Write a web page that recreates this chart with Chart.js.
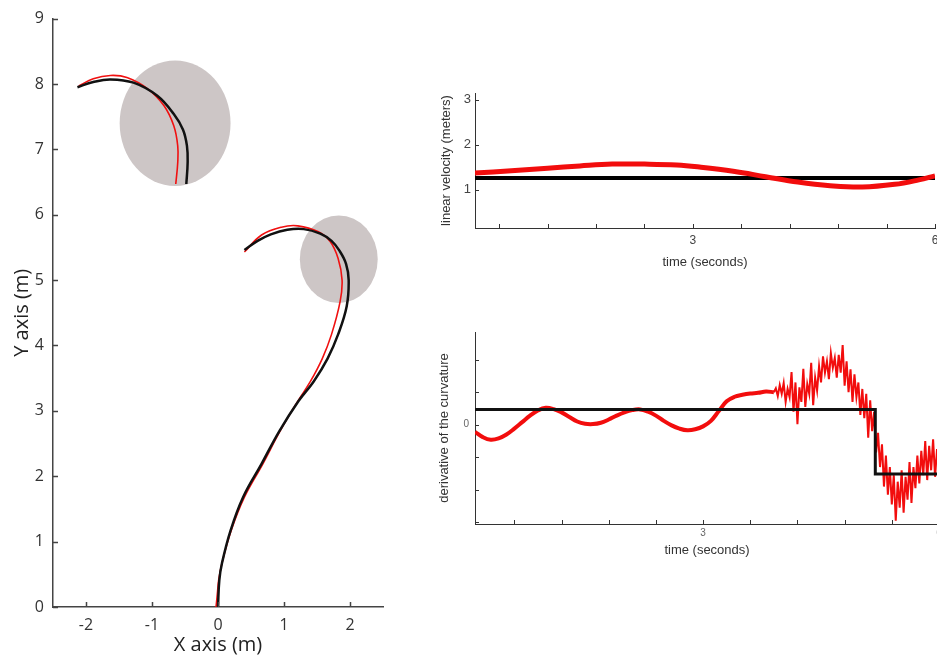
<!DOCTYPE html>
<html>
<head>
<meta charset="utf-8">
<script src="https://cdn.jsdelivr.net/npm/chart.js@4"></script>
<style>
    html, body { margin: 0; padding: 0; background: #fff; overflow: hidden; }
    body { width: 937px; height: 660px; position: relative; }
    canvas { position: absolute; }
    #chartPath { left: 0; top: 0; }
    #chartVelocity { left: 430px; top: 80px; }
    #chartCurvature { left: 430px; top: 320px; }
</style>
</head>
<body>
<canvas id="chartPath" width="400" height="660"></canvas>
<canvas id="chartVelocity" width="520" height="200"></canvas>
<canvas id="chartCurvature" width="520" height="240"></canvas>
<script>
// path 1 (from origin), reference (black) and robot (red), metres
const pathRefX = [0, 0.02, 0.06, 0.19, 0.38, 0.66, 0.93, 1.22, 1.45, 1.66, 1.82, 1.95, 1.98, 1.94, 1.84, 1.72, 1.55, 1.3, 1.05, 0.8, 0.6, 0.4];
const pathRefY = [0, 0.41, 0.67, 1.17, 1.68, 2.19, 2.69, 3.15, 3.45, 3.8, 4.17, 4.6, 5.0, 5.25, 5.45, 5.6, 5.71, 5.78, 5.77, 5.7, 5.6, 5.46];
const pathRobX = [-0.03, -0.01, 0.01, 0.06, 0.2, 0.4, 0.68, 0.94, 1.21, 1.4, 1.58, 1.72, 1.85, 1.88, 1.82, 1.7, 1.52, 1.21, 0.96, 0.66, 0.4];
const pathRobY = [0, 0.2, 0.41, 0.67, 1.17, 1.68, 2.19, 2.69, 3.15, 3.45, 3.8, 4.17, 4.67, 5.0, 5.33, 5.59, 5.74, 5.83, 5.81, 5.69, 5.43];

// path 2 (upper arc)
const arcRefX = [-0.48, -0.46, -0.47, -0.53, -0.67, -0.92, -1.28, -1.63, -1.89, -2.13];
const arcRefY = [6.47, 6.8, 7.05, 7.3, 7.54, 7.82, 8.02, 8.07, 8.03, 7.95];
const arcRobX = [-0.64, -0.61, -0.61, -0.67, -0.82, -1.07, -1.38, -1.63, -1.89, -2.11];
const arcRobY = [6.47, 6.8, 7.05, 7.36, 7.67, 7.93, 8.1, 8.13, 8.08, 7.97];

// obstacles (centre and half-axes, metres)
const obstacleX = [-0.65, 1.83];
const obstacleY = [7.40, 5.32];
const obstacleRx = [0.84, 0.59];
const obstacleRy = [0.96, 0.67];

const pathXTicks = [-2, -1, 0, 1, 2];
const pathYTicks = [0, 1, 2, 3, 4, 5, 6, 7, 8, 9];

// linear velocity
const velTime = [0.3, 0.75, 1.2, 1.6, 2.0, 2.4, 2.8, 3.1, 3.5, 3.9, 4.3, 4.7, 5.1, 5.5, 5.8, 6.0];
const velRobot = [1.37, 1.42, 1.48, 1.53, 1.57, 1.57, 1.55, 1.5, 1.41, 1.29, 1.17, 1.09, 1.06, 1.12, 1.22, 1.31];
const velRefTime = [0.3, 6.0];
const velRef = [1.26, 1.26];
const velYTicks = [1, 2, 3];

const timeTicks = [0.6, 1.2, 1.8, 2.4, 3, 3.6, 4.2, 4.8, 5.4, 6];
const timeLabels = [3, 6];

// derivative of the curvature
const curvTime = [0.1, 0.2, 0.3, 0.4, 0.5, 0.6, 0.7, 0.8, 0.9, 1.0, 1.1, 1.2, 1.3, 1.4, 1.5, 1.6, 1.7, 1.8, 1.9, 2.0,
    2.1, 2.2, 2.3, 2.4, 2.5, 2.6, 2.7, 2.8, 2.9, 3.0, 3.1, 3.2, 3.3, 3.4, 3.5, 3.6, 3.7, 3.8, 3.9];
const curvRobot = [-0.22, -0.38, -0.46, -0.42, -0.3, -0.12, 0.08, 0.28, 0.44, 0.52, 0.48, 0.38, 0.24, 0.1, 0.03, 0.02, 0.06, 0.16, 0.28, 0.38,
    0.45, 0.47, 0.4, 0.28, 0.12, -0.02, -0.12, -0.17, -0.14, -0.05, 0.12, 0.42, 0.72, 0.86, 0.92, 0.96, 0.98, 1.02, 1.0];
const curvNoisyTime = [3.9, 3.925, 3.95, 3.975, 4.0, 4.025, 4.05, 4.075, 4.1, 4.125, 4.15, 4.175, 4.2, 4.225, 4.25, 4.275, 4.3, 4.325, 4.35, 4.375,
    4.4, 4.425, 4.45, 4.475, 4.5, 4.525, 4.55, 4.575, 4.6, 4.625, 4.65, 4.675, 4.7, 4.725, 4.75, 4.775, 4.8, 4.825, 4.85, 4.875,
    4.9, 4.925, 4.95, 4.975, 5.0, 5.025, 5.05, 5.075, 5.1, 5.125, 5.15, 5.175, 5.2, 5.225, 5.25, 5.275, 5.3, 5.325, 5.35, 5.375,
    5.4, 5.425, 5.45, 5.475, 5.5, 5.525, 5.55, 5.575, 5.6, 5.625, 5.65, 5.675, 5.7, 5.725, 5.75, 5.775, 5.8, 5.825, 5.85, 5.875,
    5.9, 5.925, 5.95, 5.975, 6.0];
const curvNoisy = [1.0, 1.12, 0.88, 1.22, 0.95, 1.28, 0.7, 1.1, 0.85, 1.62, 0.4, 1.3, 0.02, 1.15, 0.7, 1.72, 0.55, 1.25, 0.95, 1.9,
    0.6, 1.45, 1.05, 1.8, 1.3, 2.1, 1.6, 1.95, 1.4, 2.2, 1.75, 2.05, 1.45, 2.15, 1.6, 2.45, 1.2, 1.95, 1.0, 1.7,
    0.7, 1.55, 0.85, 1.3, 0.3, 1.1, 0.2, 0.95, -0.4, 0.75, -0.2, 0.4, -0.85, -0.25, -1.3, -0.6, -1.9, -0.95, -2.15, -1.3,
    -2.45, -1.55, -2.95, -1.75, -2.55, -1.4, -2.7, -1.6, -2.3, -1.15, -2.4, -1.3, -1.95, -0.95, -1.8, -0.8, -1.55, -0.5, -1.7, -0.65,
    -1.4, -0.45, -1.6, -0.75, -1.25];
const curvRefTime = [0.1, 5.19, 5.19, 6.0];
const curvRef = [0.47, 0.47, -1.51, -1.51];
const curvYTicks = [-3, -2, -1, 0, 1, 2];

function toPoints(xs, ys) {
    return xs.map((x, i) => ({ x: x, y: ys[i] }));
}

function fixTicks(values) {
    return function (scale) {
        scale.ticks = values.map(v => ({ value: v }));
    };
}

// MATLAB-like tick marks pointing into the plot
const innerTicks = {
    id: 'innerTicks',
    afterDatasetsDraw(chart, args, opts) {
        const { ctx, chartArea } = chart;
        const xs = chart.scales.x, ys = chart.scales.y;
        ctx.save();
        ctx.strokeStyle = opts.color;
        ctx.lineWidth = opts.width;
        ctx.beginPath();
        xs.ticks.forEach(t => {
            const px = Math.round(xs.getPixelForValue(t.value)) + 0.5;
            ctx.moveTo(px, chartArea.bottom);
            ctx.lineTo(px, chartArea.bottom - opts.length);
        });
        ys.ticks.forEach(t => {
            const py = Math.round(ys.getPixelForValue(t.value)) + 0.5;
            ctx.moveTo(chartArea.left, py);
            ctx.lineTo(chartArea.left + opts.length, py);
        });
        ctx.stroke();
        ctx.restore();
    }
};

const obstacles = {
    id: 'obstacles',
    beforeDatasetsDraw(chart, args, opts) {
        const { ctx } = chart;
        const xs = chart.scales.x, ys = chart.scales.y;
        ctx.save();
        ctx.fillStyle = opts.color;
        obstacleX.forEach((cx, i) => {
            const px = xs.getPixelForValue(cx);
            const py = ys.getPixelForValue(obstacleY[i]);
            const rx = Math.abs(xs.getPixelForValue(cx + obstacleRx[i]) - px);
            const ry = Math.abs(ys.getPixelForValue(obstacleY[i] + obstacleRy[i]) - py);
            ctx.beginPath();
            ctx.ellipse(px, py, rx, ry, 0, 0, 2 * Math.PI);
            ctx.fill();
        });
        ctx.restore();
    }
};

const pathFont = "'Open Sans', 'Noto Sans', sans-serif";
const plotFont = "'Liberation Sans', Arial, sans-serif";

new Chart(document.getElementById('chartPath'), {
    type: 'scatter',
    data: {
        datasets: [
            { data: toPoints(pathRefX, pathRefY), borderColor: '#111', borderWidth: 2.5 },
            { data: toPoints(arcRefX, arcRefY), borderColor: '#111', borderWidth: 2.5 },
            { data: toPoints(pathRobX, pathRobY), borderColor: '#f01010', borderWidth: 1.6 },
            { data: toPoints(arcRobX, arcRobY), borderColor: '#f01010', borderWidth: 1.6 }
        ]
    },
    options: {
        responsive: false,
        animation: false,
        showLine: true,
        elements: { point: { radius: 0 }, line: { tension: 0.4 } },
        layout: { padding: { top: 16, right: 17, left: 0, bottom: 0 } },
        plugins: {
            legend: { display: false },
            tooltip: { enabled: false },
            innerTicks: { color: '#444', width: 1.5, length: 5 },
            obstacles: { color: 'rgb(205,198,198)' }
        },
        scales: {
            x: {
                min: -2.5, max: 2.5,
                afterBuildTicks: fixTicks(pathXTicks),
                afterFit(scale) { scale.height = 53; },
                grid: { display: false, drawTicks: false },
                border: { display: true, color: '#444', width: 1.5 },
                ticks: { color: '#333', padding: 9, autoSkip: false, maxRotation: 0, font: { family: pathFont, size: 16 } },
                title: { display: true, text: 'X axis (m)', color: '#222', padding: { top: 0, bottom: 3 }, font: { family: pathFont, size: 20 } }
            },
            y: {
                min: 0, max: 9,
                afterBuildTicks: fixTicks(pathYTicks),
                afterFit(scale) { scale.width = 53; },
                grid: { display: false, drawTicks: false },
                border: { display: true, color: '#444', width: 1.5 },
                ticks: { color: '#333', padding: 9, autoSkip: false, font: { family: pathFont, size: 16 } },
                title: { display: true, text: 'Y axis (m)', color: '#222', padding: { top: 10, bottom: 0 }, font: { family: pathFont, size: 20 } }
            }
        }
    },
    plugins: [obstacles, innerTicks]
});

new Chart(document.getElementById('chartVelocity'), {
    type: 'scatter',
    data: {
        datasets: [
            { data: toPoints(velTime, velRobot), borderColor: '#f20d0d', borderWidth: 5, tension: 0.4, order: 0 },
            { data: toPoints(velRefTime, velRef), borderColor: '#000', borderWidth: 4, order: 1 }
        ]
    },
    options: {
        responsive: false,
        animation: false,
        showLine: true,
        elements: { point: { radius: 0 } },
        layout: { padding: { top: 13, right: 15, left: 0, bottom: 0 } },
        plugins: {
            legend: { display: false },
            tooltip: { enabled: false },
            innerTicks: { color: '#333', width: 1, length: 4 }
        },
        scales: {
            x: {
                min: 0.3, max: 6,
                afterBuildTicks: fixTicks(timeTicks),
                afterFit(scale) { scale.height = 52; },
                grid: { display: false, drawTicks: false },
                border: { display: true, color: '#333', width: 1 },
                ticks: {
                    color: '#444', padding: 5, autoSkip: false, maxRotation: 0,
                    font: { family: plotFont, size: 12 },
                    callback: v => timeLabels.includes(v) ? String(v) : ''
                },
                title: { display: true, text: 'time (seconds)', color: '#333', padding: { top: 0, bottom: 10 }, font: { family: plotFont, size: 13 } }
            },
            y: {
                min: 0.15, max: 3.15,
                afterBuildTicks: fixTicks(velYTicks),
                afterFit(scale) { scale.width = 45; },
                grid: { display: false, drawTicks: false },
                border: { display: true, color: '#333', width: 1 },
                ticks: { color: '#444', padding: 4, autoSkip: false, font: { family: plotFont, size: 13 } },
                title: { display: true, text: 'linear velocity (meters)', color: '#333', padding: { top: 9, bottom: 0 }, font: { family: plotFont, size: 13 } }
            }
        }
    },
    plugins: [innerTicks]
});

new Chart(document.getElementById('chartCurvature'), {
    type: 'scatter',
    data: {
        datasets: [
            { data: toPoints(curvRefTime, curvRef), borderColor: '#111', borderWidth: 3, order: 0 },
            { data: toPoints(curvTime, curvRobot), borderColor: '#f20d0d', borderWidth: 4, tension: 0.4, order: 1 },
            { data: toPoints(curvNoisyTime, curvNoisy), borderColor: '#f20d0d', borderWidth: 2, tension: 0, order: 2 }
        ]
    },
    options: {
        responsive: false,
        animation: false,
        showLine: true,
        elements: { point: { radius: 0 } },
        layout: { padding: { top: 5, right: 11, left: 0, bottom: 0 } },
        plugins: {
            legend: { display: false },
            tooltip: { enabled: false },
            innerTicks: { color: '#333', width: 1, length: 4 }
        },
        scales: {
            x: {
                min: 0.1, max: 6,
                afterBuildTicks: fixTicks(timeTicks),
                afterFit(scale) { scale.height = 36; },
                grid: { display: false, drawTicks: false },
                border: { display: true, color: '#333', width: 1 },
                ticks: {
                    color: '#666', padding: 3, autoSkip: false, maxRotation: 0,
                    font: { family: plotFont, size: 10 },
                    callback: v => timeLabels.includes(v) ? String(v) : ''
                },
                title: { display: true, text: 'time (seconds)', color: '#333', padding: { top: 0, bottom: 2 }, font: { family: plotFont, size: 13 } }
            },
            y: {
                min: -3.05, max: 2.85,
                afterBuildTicks: fixTicks(curvYTicks),
                afterFit(scale) { scale.width = 45; },
                grid: { display: false, drawTicks: false },
                border: { display: true, color: '#333', width: 1 },
                ticks: {
                    color: '#666', padding: 6, autoSkip: false,
                    font: { family: plotFont, size: 10 },
                    callback: v => v === 0 ? '0' : ''
                },
                title: { display: true, text: 'derivative of the curvature', color: '#333', padding: { top: 7, bottom: 0 }, font: { family: plotFont, size: 13 } }
            }
        }
    },
    plugins: [innerTicks]
});
</script>
</body>
</html>
